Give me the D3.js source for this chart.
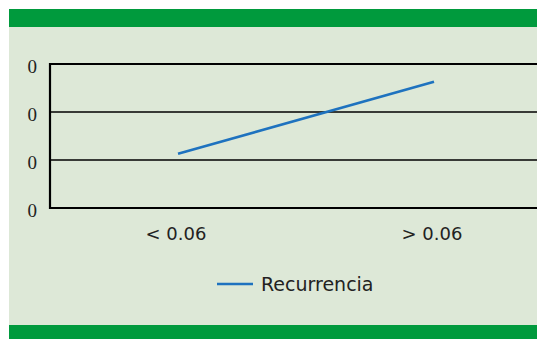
<!DOCTYPE html>
<html><head><meta charset="utf-8">
<script src="https://cdn.jsdelivr.net/npm/d3@7"></script>
<style>body{margin:0;background:#fff}svg{display:block}</style>
</head><body>
<script>
const categories = ["< 0.06", "> 0.06"];
const recurrencia = [0.113, 0.263];
const yTicks = [0, 0.1, 0.2, 0.3];
const seriesName = "Recurrencia";

const W = 537, H = 339;
const svg = d3.select("body").append("svg").attr("width", W).attr("height", H);

svg.append("rect").attr("x", 9).attr("y", 9).attr("width", W - 9).attr("height", H - 9).attr("fill", "#dde8d7");
svg.append("rect").attr("x", 9).attr("y", 9).attr("width", W - 9).attr("height", 18).attr("fill", "#009a3d");
svg.append("rect").attr("x", 9).attr("y", 325).attr("width", W - 9).attr("height", 14).attr("fill", "#009a3d");

const x = d3.scaleBand().domain(categories).range([50, 562]);
const y = d3.scaleLinear().domain([0, 0.3]).range([208, 64]);

svg.append("g").selectAll("line").data(yTicks).join("line")
  .attr("x1", 50).attr("x2", W)
  .attr("y1", d => y(d)).attr("y2", d => y(d))
  .attr("stroke", "#000")
  .attr("stroke-width", (d, i) => (i === 0 || i === yTicks.length - 1) ? 2.2 : 1.3);

svg.append("line").attr("x1", 50).attr("x2", 50).attr("y1", y(0.3) - 1).attr("y2", y(0) + 1)
  .attr("stroke", "#000").attr("stroke-width", 2.2);

svg.append("g").selectAll("text").data(yTicks).join("text")
  .attr("x", 37).attr("y", d => y(d) + 9)
  .attr("text-anchor", "end")
  .attr("font-family", "Liberation Serif, serif").attr("font-size", 19)
  .attr("fill", "#222")
  .text(d => d3.format(".0f")(d));

svg.append("g").selectAll("text").data(categories).join("text")
  .attr("x", d => x(d) + x.bandwidth() / 2 - 2).attr("y", 240)
  .attr("text-anchor", "middle")
  .attr("font-family", "DejaVu Sans, sans-serif").attr("font-size", 18)
  .attr("fill", "#222")
  .text(d => d);

const line = d3.line().x((d, i) => x(categories[i]) + x.bandwidth() / 2).y(d => y(d));
svg.append("path").datum(recurrencia).attr("d", line)
  .attr("fill", "none").attr("stroke", "#1e72bf").attr("stroke-width", 2.6);

svg.append("line").attr("x1", 217).attr("x2", 253).attr("y1", 284).attr("y2", 284)
  .attr("stroke", "#1e72bf").attr("stroke-width", 2.6);
svg.append("text").attr("x", 261).attr("y", 291)
  .attr("font-family", "DejaVu Sans, sans-serif").attr("font-size", 19)
  .attr("fill", "#222").text(seriesName);
</script>
</body></html>
